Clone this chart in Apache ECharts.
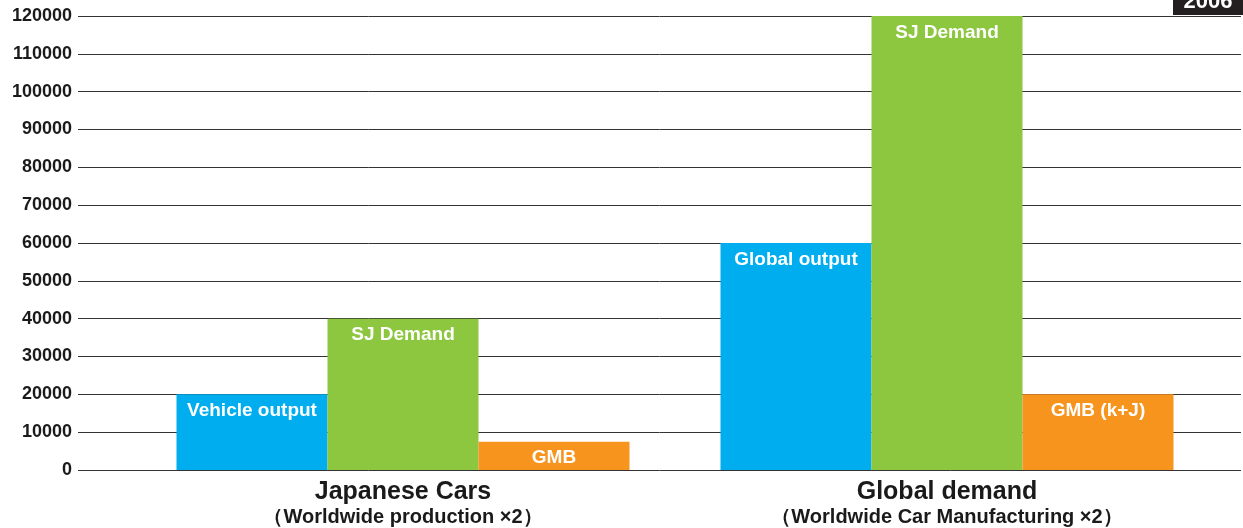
<!DOCTYPE html>
<html><head><meta charset="utf-8">
<script src="https://cdn.jsdelivr.net/npm/echarts@6/dist/echarts.min.js"></script>
<style>html,body{margin:0;padding:0;background:#fff}#c{width:1243px;height:528px}</style>
</head><body><div id="c"></div>
<script>
var categories = ['Japanese Cars', 'Global demand'];
var subtitles = ['（Worldwide production ×2）', '（Worldwide Car Manufacturing ×2）'];
var outputValues = [20000, 60000];
var demandValues = [40000, 120000];
var gmbValues = [7500, 20000];
var outputLabels = ['Vehicle output', 'Global output'];
var demandLabels = ['SJ Demand', 'SJ Demand'];
var gmbLabels = ['GMB', 'GMB (k+J)'];
var yTicks = [0, 10000, 20000, 30000, 40000, 50000, 60000, 70000, 80000, 90000, 100000, 110000, 120000];
var yearLabel = '2006';

var FONT = '"Liberation Sans", Arial, sans-serif';
var chart = echarts.init(document.getElementById('c'), null, {renderer: 'canvas'});

function mkSeries(name, values, labels, color) {
  return {
    name: name, type: 'bar', xAxisIndex: 1, yAxisIndex: 1,
    barWidth: 151, barGap: '0%',
    itemStyle: {color: color},
    data: values.map(function (v, i) {
      return {value: v, label: {formatter: labels[i]}};
    }),
    label: {
      show: true, position: 'insideTop', distance: 7,
      color: '#fff', fontWeight: 'bold', fontSize: 19, lineHeight: 19, fontFamily: FONT
    },
    emphasis: {disabled: true}, animation: false
  };
}

chart.setOption({
  animation: false,
  grid: [
    {left: 78, right: 2, top: 16, bottom: 58},
    {left: 131, right: 24, top: 16, bottom: 58}
  ],
  xAxis: [
    {gridIndex: 0, type: 'category', data: [''], show: false},
    {gridIndex: 1, type: 'category', data: categories,
     axisLine: {show: false}, axisTick: {show: false},
     axisLabel: {
       margin: 10, interval: 0,
       formatter: function (v, i) { return '{a|' + v + '}\n{b|' + subtitles[i] + '}'; },
       rich: {
         a: {fontSize: 25, fontWeight: 'bold', color: '#1a1a1a', lineHeight: 25, fontFamily: FONT},
         b: {fontSize: 20, fontWeight: 'bold', color: '#1a1a1a', lineHeight: 24, fontFamily: FONT}
       }
     }}
  ],
  yAxis: [
    {gridIndex: 0, type: 'value', min: yTicks[0], max: yTicks[yTicks.length - 1], interval: 10000,
     axisLine: {show: false}, axisTick: {show: false},
     axisLabel: {color: '#1a1a1a', fontWeight: 'bold', fontSize: 18, fontFamily: FONT, margin: 6,
                 formatter: function (v) { return String(v); }},
     splitLine: {lineStyle: {color: '#333', width: 1}}},
    {gridIndex: 1, type: 'value', min: yTicks[0], max: yTicks[yTicks.length - 1], interval: 10000,
     show: false, splitLine: {show: false}}
  ],
  series: [
    mkSeries('Output', outputValues, outputLabels, '#00aeef'),
    mkSeries('SJ Demand', demandValues, demandLabels, '#8dc63f'),
    mkSeries('GMB', gmbValues, gmbLabels, '#f7941d')
  ],
  graphic: [
    {type: 'rect', left: 1173, top: 0, shape: {width: 70, height: 15}, style: {fill: '#231f20'}, z: 100},
    {type: 'text', x: 1208, y: 13, z: 101,
     style: {text: yearLabel, fill: '#fff', font: 'bold 22px ' + FONT, textAlign: 'center', textVerticalAlign: 'bottom'}}
  ]
});
</script>
</body></html>
